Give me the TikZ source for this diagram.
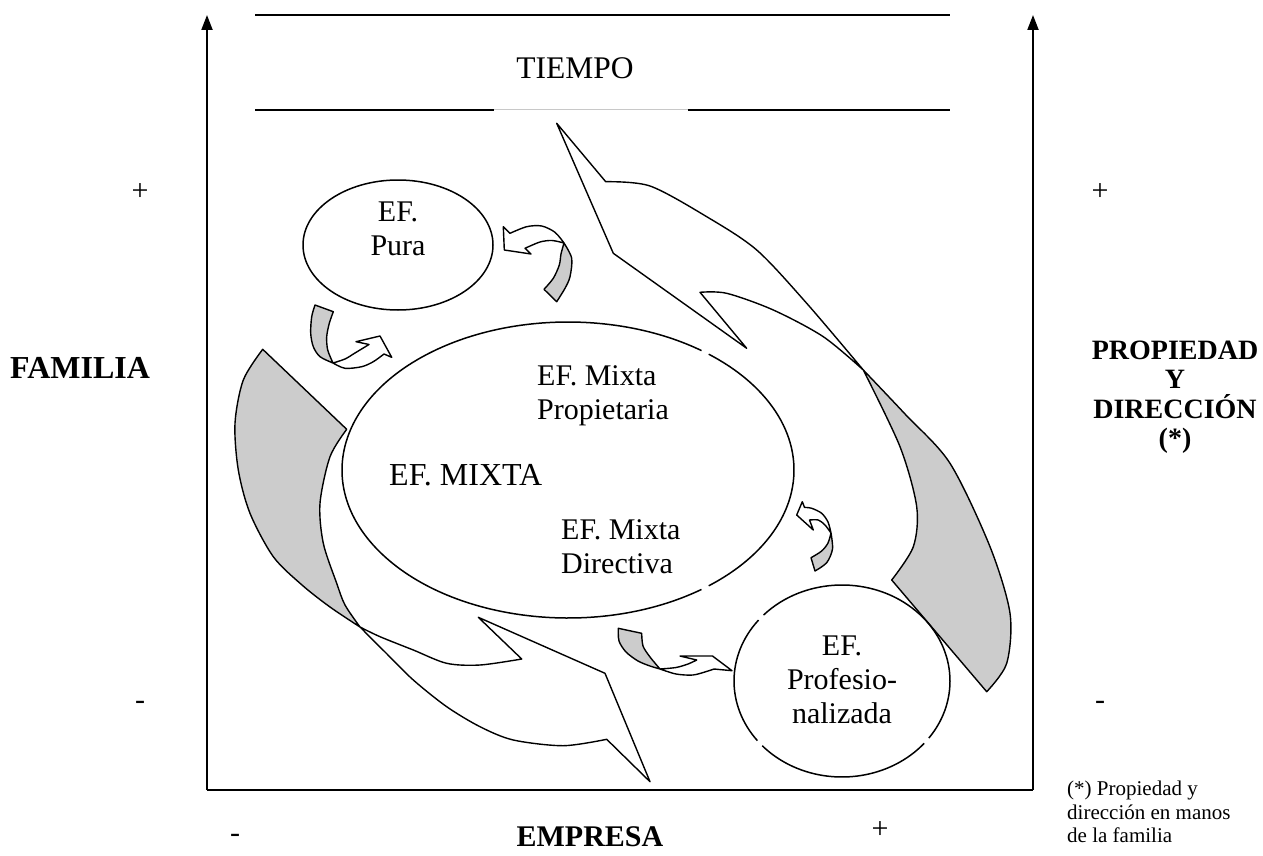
\documentclass[tikz,border=0pt]{standalone}
\usepackage{fontspec}
\setmainfont{Liberation Serif}
\usetikzlibrary{arrows.meta,shapes.geometric}
\definecolor{ribbongray}{RGB}{204,204,204}
\definecolor{faint}{RGB}{200,200,200}
% Curved ribbon arrow: #1 inner front edge (head -> fold), #2 back edge (fold -> tail),
% #3 outer edge (tail -> fold), #4 outer front edge (fold -> head), #5 head corners
\newcommand{\ribbonarrow}[5]{%
  \fill[white] plot[smooth] coordinates {#1} -- plot[smooth] coordinates {#2}
    -- plot[smooth] coordinates {#3} -- plot[smooth] coordinates {#4} #5 -- cycle;
  \fill[ribbongray] plot[smooth] coordinates {#2} -- plot[smooth] coordinates {#3} -- cycle;
  \draw[ribbon] plot[smooth] coordinates {#1} -- plot[smooth] coordinates {#2}
    -- plot[smooth] coordinates {#3} -- plot[smooth] coordinates {#4} #5 -- cycle;
}
\begin{document}
\begin{tikzpicture}[x=1pt,y=-1pt,line join=round,
  ribbon/.style={draw=black,line width=1.4pt},
  axis/.style={line width=2pt,-{Triangle[width=11pt,length=15pt]}},
  axisline/.style={line width=2pt},
  band/.style={line width=2pt},
  outline/.style={line width=1.5pt},
  lbl/.style={inner sep=0pt,font=\fontsize{30}{34}\selectfont,align=center},
  blbl/.style={inner sep=0pt,font=\fontsize{28}{29.5}\selectfont\bfseries,align=center},
  note/.style={inner sep=0pt,font=\fontsize{21}{23.5}\selectfont,align=left}]
\useasboundingbox (0,0) rectangle (1263,856);

% axes
\coordinate (o) at (207,790);
\coordinate (ytop) at (207,15);
\coordinate (xr) at (1033,790);
\coordinate (rtop) at (1033,15);
\draw[axisline] (o) -- (xr);
\draw[axis] (o) -- (ytop);
\draw[axis] (xr) -- (rtop);

% time band
\coordinate (b1l) at (255,15);  \coordinate (b1r) at (950,15);
\coordinate (b2l) at (255,110); \coordinate (b2a) at (494,110);
\coordinate (b2b) at (688,110); \coordinate (b2r) at (950,110);
\draw[band] (b1l) -- (b1r);
\draw[band] (b2l) -- (b2a);
\draw[band] (b2b) -- (b2r);
\draw[faint,line width=1pt] (b2a) -- (b2b);
\node[lbl,font=\fontsize{31.5}{34}\selectfont] (tiempo) at (575,68) {TIEMPO};

% large ribbon arrows
\ribbonarrow
  {(700,292.3) (726.7,293.3) (773.3,310) (823.3,336.7) (863.3,370)}
  {(863.3,370) (900,446.7) (916.7,506.7) (913.3,546.7) (891.7,580)}
  {(986.7,691.7) (1006.7,663.3) (1010,613.3) (990,546.7) (950,463.3) (905,414) (863.3,370)}
  {(863.3,370) (806.7,303.3) (756.7,250) (706.7,216.7) (650,186) (605.7,181.7)}
  {-- (556.7,123.3) -- (613.3,253.3) -- (746.7,348.3)}
\ribbonarrow
  {(521.7,659) (480,665) (446.7,663.3) (413.3,650) (380,636.7) (360,627)}
  {(360,627) (345,605) (336.7,583.3) (323.3,543.3) (320,503.3) (330,456.7) (346.7,429.3)}
  {(262.7,349.3) (243.3,380) (235,423.3) (238.3,470) (250,513.3) (273.3,556.7) (302,585) (330,607) (360,627)}
  {(360,627) (386,653) (413.3,680) (446.7,706.7) (480,726.7) (513.3,740) (563.3,745.7) (606.7,739.3)}
  {-- (650,781.7) -- (605,673.3) -- (478.3,617.3)}

% small ribbon arrows
\ribbonarrow
  {(525,248.3) (540,242) (552,240.5) (564,243)}
  {(564,243) (561,254) (559.3,265) (553.3,278.3) (544,289.3)}
  {(556.7,301.7) (565,288.3) (570,276.7) (571.7,258.3) (564,243)}
  {(564,243) (555,232.3) (541.7,226) (526.7,226.7) (510,233.3)}
  {-- (503.3,226.7) -- (504.3,250) -- (531,254)}
\ribbonarrow
  {(369,344.5) (355,353) (345,359) (333,363)}
  {(333,363) (327.7,350) (326.7,336.7) (329.3,323.3) (333.3,311.7)}
  {(315,305) (311.7,316.7) (310.7,333.3) (313.3,346.7) (320,356.7) (333,363)}
  {(333,363) (345,368.3) (361.7,366.7) (373.3,361.7) (384,354)}
  {-- (391.7,357.3) -- (380,336) -- (356,341.7)}
\ribbonarrow
  {(809.5,520) (818.3,520) (825,525) (831,533)}
  {(831,533) (828,543) (821.7,551) (811,557.7)}
  {(815,571) (826.7,562.7) (832.5,549) (831,533)}
  {(831,533) (828,522) (821.7,513.3) (811.7,508.3) (804.5,507.4)}
  {-- (802.3,501.7) -- (796.7,515) -- (813.3,530)}
\ribbonarrow
  {(696.7,660) (688,664) (676,667.5) (660,669)}
  {(660,669) (650,657) (643,646) (641.7,633.3)}
  {(618.3,628.3) (619,641) (626,652) (638,661) (650,666) (660,669)}
  {(660,669) (676,674) (693,675) (708,671) (714,669)}
  {-- (732,670.7) -- (712.5,656) -- (680,656)}

% stages
\node[ellipse,minimum width=452pt,minimum height=296pt,inner sep=0pt] (mixta) at (568,470) {};
\draw[outline] (mixta.center) ++(53.8:226 and 148)
  arc[start angle=53.8,end angle=306.2,x radius=226,y radius=148];
\draw[outline] (mixta.center) ++(-51.5:226 and 148)
  arc[start angle=-51.5,end angle=51.5,x radius=226,y radius=148];

\node[draw,outline,ellipse,minimum width=190pt,minimum height=130pt,inner sep=0pt] (pura) at (398,245) {};

\node[ellipse,minimum width=216pt,minimum height=192pt,inner sep=0pt] (prof) at (842,681) {};
\draw[outline] (prof.center) ++(40.5:108 and 96)
  arc[start angle=40.5,end angle=137.6,x radius=108,y radius=96];
\draw[outline] (prof.center) ++(141.6:108 and 96)
  arc[start angle=141.6,end angle=219.4,x radius=108,y radius=96];
\draw[outline] (prof.center) ++(223.4:108 and 96)
  arc[start angle=223.4,end angle=396.5,x radius=108,y radius=96];

\node[lbl] (puratxt) at (398,229) {EF.\\Pura};
\node[lbl,anchor=west,align=left] (proptxt) at (537,396) {EF. Mixta\\Propietaria};
\node[lbl,anchor=west,font=\fontsize{32}{34}\selectfont] (mixtatxt) at (389,475) {EF. MIXTA};
\node[lbl,anchor=west,align=left] (dirtxt) at (561,547) {EF. Mixta\\Directiva};
\node[lbl] (proftxt) at (842,680) {EF.\\Profesio-\\nalizada};

% axis labels
\node[lbl] (plusl) at (140,192) {+};
\node[lbl] (plusr) at (1100,192) {+};
\node[lbl] (minusl) at (140,705) {-};
\node[lbl] (minusr) at (1100,705) {-};
\node[lbl] (minusb) at (235,838) {-};
\node[lbl] (plusb) at (880,830) {+};
\node[blbl,font=\fontsize{32}{34}\selectfont\bfseries] (familia) at (80,368) {FAMILIA};
\node[blbl] (propdir) at (1175,397) {PROPIEDAD\\Y\\DIRECCIÓN\\(*)};
\node[blbl,font=\fontsize{30}{34}\selectfont\bfseries] (empresa) at (590,837) {EMPRESA};
\node[note,anchor=north west] (nota) at (1067,781) {(*) Propiedad y\\dirección en manos\\de la familia};
\end{tikzpicture}
\end{document}
